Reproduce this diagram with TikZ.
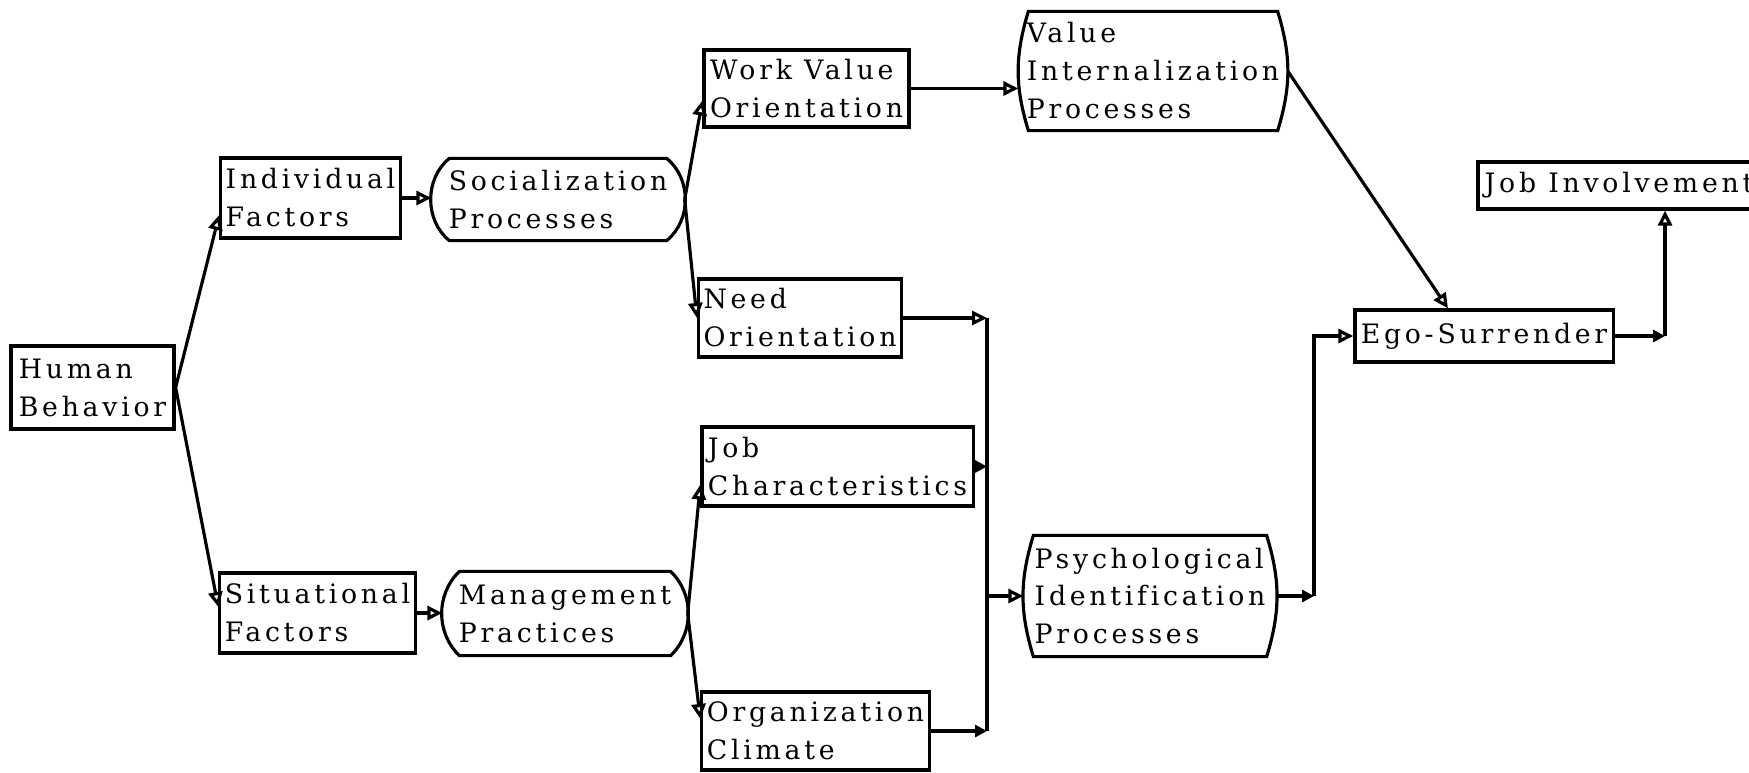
\documentclass[tikz,border=0pt]{standalone}
\usepackage{fontspec}
\newfontfamily\typer{DejaVu Serif}[LetterSpace=14,Ligatures=CommonOff]
\usetikzlibrary{arrows.meta}
\tikzset{
  blk/.style={draw, line width=0.9pt, align=left, minimum width=#1, minimum height=0.79cm,
    inner xsep=0.05cm, inner ysep=0pt, font=\typer\fontsize{7.6pt}{10.8pt}\selectfont},
  blk/.default=1.7cm,
  proc/.style={blk=#1, draw=none},
  edge/.style={line width=0.9pt},
  link/.style={edge, -{Triangle[open,length=0.15cm,width=0.14cm]}},
  linkf/.style={edge, -{Triangle[length=0.12cm,width=0.12cm]}},
}
% process outline: straight top and bottom, bulging sides
\newcommand{\procframe}[3]{%
  \draw[edge] ([xshift=#2]#1.north west) -- ([xshift=-#2]#1.north east)
    to[bend left=#3] ([xshift=-#2]#1.south east)
    -- ([xshift=#2]#1.south west)
    to[bend left=#3] ([xshift=#2]#1.north west) -- cycle;}

\begin{document}
\begin{tikzpicture}[x=0.01cm, y=-0.01cm]
  \useasboundingbox[fill=white] (0,0) rectangle (1749,772);

  % left half
  \node[blk=1.63cm, minimum height=0.83cm] (hb) at (92.5,387.5) {Human\\Behavior};
  \node[blk=1.73cm, minimum height=0.80cm] (ind) at (310.5,198) {Individual\\Factors};
  \node[blk=1.79cm, minimum height=0.80cm] (sit) at (317.5,613) {Situational\\Factors};
  \node[proc=2.50cm] (soc) at (558,199.5) {Socialization\\Processes};
  \node[proc=2.42cm, minimum height=0.81cm] (mgt) at (565,613.5) {Management\\Practices};
  \procframe{soc}{0.18cm}{51}
  \procframe{mgt}{0.17cm}{46}

  \node[blk=2.05cm, minimum height=0.77cm] (wvo) at (806.5,88.5) {Work Value\\Orientation};
  \node[blk=1.96cm, minimum height=0.78cm] (need) at (800,318) {Need\\Orientation};
  \node[blk=2.71cm] (job) at (837.5,466.5) {Job\\Characteristics};
  \node[blk=2.23cm, minimum height=0.78cm] (org) at (815.5,731) {Organization\\Climate};

  % right half
  \node[proc=2.66cm, minimum height=1.16cm] (vip) at (1153,71) {Value\\Internalization\\Processes};
  \node[proc=2.50cm, minimum height=1.18cm] (psy) at (1150,596) {Psychological\\Identification\\Processes};
  \procframe{vip}{0.10cm}{17}
  \procframe{psy}{0.10cm}{17}
  \node[blk=2.58cm, minimum height=0.52cm] (ego) at (1484,336) {Ego-Surrender};
  \node[blk=2.82cm, minimum height=0.47cm] (ji) at (1619,185.5) {Job Involvement};

  \coordinate (bus) at (987,0);
  \coordinate (rise) at (1314,0);
  \coordinate (jup) at (1665,0);

  \draw[link] (hb.east) -- ([yshift=-0.17cm]ind.west);
  \draw[link] (hb.east) -- ([yshift=0.06cm]sit.west);
  \draw[link] (ind.east) -- (ind.east -| soc.west);
  \draw[link] (sit.east) -- (sit.east -| mgt.west);
  \draw[link] (soc.east) -- ([yshift=-0.12cm]wvo.west);
  \draw[link] (soc.east) -- (need.west);
  \draw[link] (mgt.east) -- ([yshift=-0.18cm]job.west);
  \draw[link] (mgt.east) -- ([yshift=0.12cm]org.west);
  \draw[link] (wvo.east) -- (wvo.east -| vip.west);

  % collecting line
  \draw[link] (need.east) -- (need.east -| bus);
  \draw[linkf] (job.east) -- (job.east -| bus);
  \draw[linkf] (org.east) -- (org.east -| bus);
  \draw[edge] (need.east -| bus) -- (org.east -| bus);
  \draw[link] (psy.west -| bus) -- (psy.west);

  \draw[linkf] (psy.east) -- (psy.east -| rise);
  \draw[link] (psy.east -| rise) |- (ego.west);
  \draw[link] (vip.east) -- ([xshift=-0.36cm]ego.north);
  \draw[linkf] (ego.east) -- (ego.east -| jup);
  \draw[link] (ego.east -| jup) -- (ji.south -| jup);
\end{tikzpicture}
\end{document}
